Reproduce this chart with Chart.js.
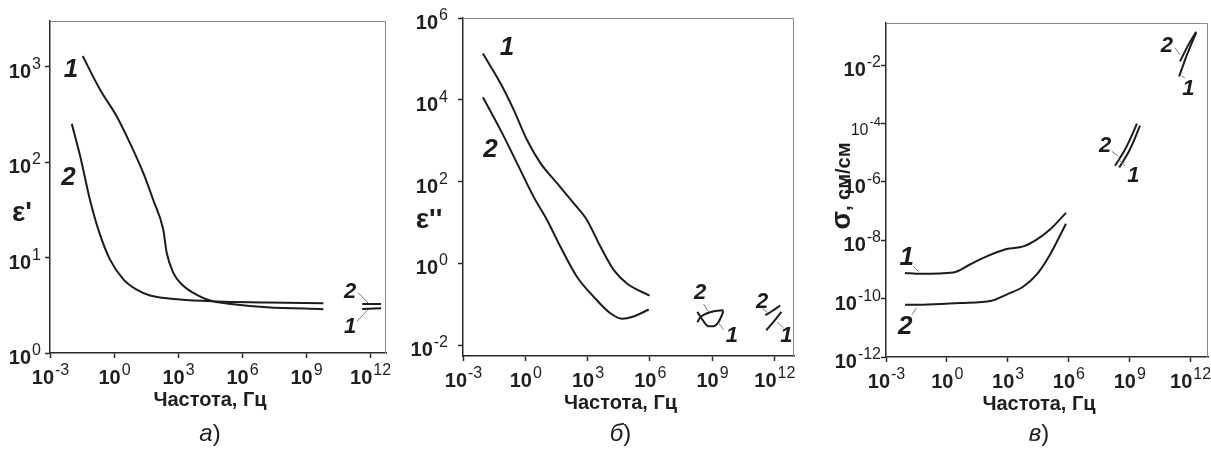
<!DOCTYPE html>
<html>
<head>
<meta charset="utf-8">
<script src="https://cdn.jsdelivr.net/npm/chart.js@4.4.1/dist/chart.umd.min.js"></script>
<style>
  body { margin: 0; background: #fff; }
  #wrap { position: relative; width: 1211px; height: 450px; overflow: hidden; }
  .panel { position: absolute; top: 0; height: 450px; }
</style>
</head>
<body>
<div id="wrap">
  <div class="panel" style="left:0;width:400px"><canvas id="chartA"></canvas></div>
  <div class="panel" style="left:400px;width:410px"><canvas id="chartB"></canvas></div>
  <div class="panel" style="left:810px;width:401px"><canvas id="chartC"></canvas></div>
</div>
<script>
// shared frequency axis
const X_TICKS = [1e-3, 1e0, 1e3, 1e6, 1e9, 1e12];
const X_EXPS = ["-3", "0", "3", "6", "9", "12"];

// а) eps'
const freqA1 = [0.034, 0.22, 1.33, 5.6, 24, 69, 204, 295, 603, 1480, 7500, 45700, 3.9e5, 1.45e7, 6.5e9];
const epsA1 = [1290, 575, 302, 158, 76, 40, 19.5, 11.2, 6.9, 5.25, 4.07, 3.47, 3.24, 3.02, 2.88];
const freqA2 = [0.0105, 0.026, 0.075, 0.186, 0.65, 2.75, 11.5, 49, 1230, 64500, 1.45e7, 6.5e9];
const epsA2 = [251, 115, 40, 19.5, 9.5, 5.9, 4.6, 4.0, 3.63, 3.47, 3.39, 3.31];
const freqAThz = [4.3e11, 3.3e12];
const epsA1Thz = [2.89, 2.95];
const epsA2Thz = [3.26, 3.26];
const yTicksA = [1, 10, 100, 1000];
const yExpsA = ["0", "1", "2", "3"];

// б) eps''
const freqB = [0.0091, 0.063, 0.275, 1.2, 5.4, 34, 214, 930, 4170, 18200, 79400, 977000];
const epsB1 = [135000, 25700, 5750, 1050, 282, 91, 29.5, 11.5, 2.57, 0.69, 0.32, 0.162];
const freqB2 = [0.0091, 0.063, 0.40, 2.5, 11.2, 49, 309, 2000, 12600, 45700, 166000, 891000];
const epsB2 = [11500, 1860, 282, 42.7, 11.5, 2.57, 0.47, 0.151, 0.060, 0.044, 0.050, 0.074];
const freqB1Ghz = [1.95e8, 3.8e8, 6.6e8, 1.15e9, 2.0e9, 2.8e9, 3.55e9];
const epsB1Ghz = [0.065, 0.039, 0.029, 0.029, 0.036, 0.050, 0.068];
const freqB2Ghz = [1.95e8, 2.75e8, 5.9e8, 1.45e9, 3.55e9];
const epsB2Ghz = [0.036, 0.048, 0.060, 0.068, 0.071];
const freqB1Thz = [4.1e11, 1.0e12, 2.2e12];
const epsB1Thz = [0.023, 0.039, 0.065];
const freqB2Thz = [3.7e11, 7.9e11, 1.95e12];
const epsB2Thz = [0.054, 0.068, 0.093];
const yTicksB = [1e-2, 1, 1e2, 1e4, 1e6];
const yExpsB = ["-2", "0", "2", "4", "6"];

// в) sigma
const freqC = [0.0087, 0.048, 2.1, 13.8, 93, 890, 6000, 26900, 123000, 759000];
const sigC1 = [7.6e-10, 7.1e-10, 7.9e-10, 1.48e-9, 2.8e-9, 5.0e-9, 6.2e-9, 1.05e-8, 2.34e-8, 8.7e-8];
const freqC2 = [0.0087, 0.069, 4.5, 162, 890, 6000, 26900, 123000, 759000];
const sigC2 = [6.2e-11, 6.2e-11, 7.1e-11, 8.5e-11, 1.38e-10, 2.6e-10, 6.6e-10, 3.2e-9, 3.7e-8];
const freqC1Ghz = [3.2e8, 1.0e9, 1.9e9, 3.4e9];
const sigC1Ghz = [3.1e-6, 1.17e-5, 3.1e-5, 8.5e-5];
const freqC2Ghz = [2.0e8, 6.2e8, 1.2e9, 2.4e9];
const sigC2Ghz = [3.6e-6, 1.29e-5, 3.3e-5, 1.0e-4];
const freqC1Thz = [2.9e11, 7.1e11, 2.0e12];
const sigC1Thz = [0.0041, 0.023, 0.132];
const freqC2Thz = [3.2e11, 7.9e11, 2.0e12];
const sigC2Thz = [0.0135, 0.047, 0.141];
const yTicksC = [1e-12, 1e-10, 1e-8, 1e-6, 1e-4, 1e-2];
const yExpsC = ["-12", "-10", "-8", "-6", "-4", "-2"];

// curve numbers, anchored in data units
const notesA = [
  { t: "1", f: 0.0095, v: 935, big: true },
  { t: "2", f: 0.0074, v: 68.6, big: true },
  { t: "2", f: 1.15e11, v: 4.4 },
  { t: "1", f: 1.15e11, v: 1.88 }
];
const leadersA = [[2.8e11, 4.28, 8.3e11, 3.31], [2.4e11, 2.13, 7.6e11, 2.82]];

const notesB = [
  { t: "1", f: 0.13, v: 185000, big: true },
  { t: "2", f: 0.021, v: 600, big: true },
  { t: "2", f: 2.7e8, v: 0.19 },
  { t: "1", f: 9.1e9, v: 0.017 },
  { t: "2", f: 2.6e11, v: 0.115 },
  { t: "1", f: 3.8e12, v: 0.017 }
];
const leadersB = [
  [3.9e8, 0.10, 6.8e8, 0.065], [2.1e9, 0.034, 3.6e9, 0.024],
  [1.35e12, 0.037, 2.8e12, 0.026], [2.7e11, 0.078, 4.7e11, 0.062]
];

const notesC = [
  { t: "1", f: 0.0105, v: 2.5e-9, big: true },
  { t: "2", f: 0.0089, v: 1.1e-11, big: true },
  { t: "2", f: 6.5e7, v: 1.66e-5 },
  { t: "1", f: 1.6e9, v: 1.55e-6 },
  { t: "2", f: 7.1e10, v: 0.045 },
  { t: "1", f: 8.3e11, v: 0.0015 }
];
const leadersC = [
  [0.022, 1.29e-9, 0.039, 8.7e-10], [0.019, 2.8e-11, 0.032, 4.8e-11],
  [1.38e8, 1.12e-5, 2.9e8, 7.6e-6], [2.9e8, 5.9e-6, 6.2e8, 3.5e-6],
  [1.8e11, 0.040, 3.2e11, 0.023], [3.9e11, 0.0042, 5.6e11, 0.0037]
];

const FONT = "'Liberation Sans', Arial, sans-serif";
const INK = "#1c1c1c";

function pts(xs, ys) {
  return xs.map((x, i) => ({ x: x, y: ys[i] }));
}

function curve(xs, ys) {
  return {
    data: pts(xs, ys),
    borderColor: INK,
    borderWidth: 2,
    pointRadius: 0,
    fill: false,
    cubicInterpolationMode: "monotone"
  };
}

function drawPow(ctx, exp, x, y, align, big, small) {
  ctx.font = big;
  const w1 = ctx.measureText("10").width;
  ctx.font = small;
  const w2 = ctx.measureText(exp).width;
  const start = align === "center" ? x - (w1 + w2) / 2 : x - w1 - w2 - 1;
  ctx.textAlign = "left";
  ctx.textBaseline = "alphabetic";
  ctx.font = big;
  ctx.fillText("10", start, y);
  ctx.font = small;
  ctx.fillText(exp, start + w1 + 1, y - 9);
}

const decorCfg = {};

const decorPlugin = {
  id: "decor",
  afterDraw(chart) {
    const o = decorCfg[chart.canvas.id];
    if (!o) return;
    const ctx = chart.ctx;
    const a = chart.chartArea;
    const sx = chart.scales.x;
    const sy = chart.scales.y;
    ctx.save();

    // light frame on top and right
    ctx.strokeStyle = "#8a8a8a";
    ctx.lineWidth = 1;
    ctx.beginPath();
    ctx.moveTo(a.left, a.top + 0.5);
    ctx.lineTo(a.right - 0.5, a.top + 0.5);
    ctx.lineTo(a.right - 0.5, a.bottom);
    ctx.stroke();

    ctx.fillStyle = "#1e1e1e";
    const big = "bold 20px " + FONT;
    const small = "16px " + FONT;
    X_TICKS.forEach((v, i) => {
      drawPow(ctx, X_EXPS[i], sx.getPixelForValue(v), a.bottom + 31, "center", big, small);
    });
    o.yTicks.forEach((v, i) => {
      const reduced = o.reduced && o.reduced.includes(o.yExps[i]);
      drawPow(ctx, o.yExps[i], a.left - o.yGap, sy.getPixelForValue(v) + 11, "right",
        reduced ? "16px " + FONT : big, reduced ? "13px " + FONT : small);
    });

    // axis title and caption
    const cx = (a.left + a.right) / 2 - 8;
    ctx.textAlign = "center";
    ctx.textBaseline = "alphabetic";
    ctx.font = "bold 20px " + FONT;
    ctx.fillText("Частота, Гц", cx, a.bottom + 53);

    ctx.font = "italic 24px " + FONT;
    const wl = ctx.measureText(o.caption).width;
    ctx.font = "24px " + FONT;
    const wp = ctx.measureText(")").width;
    ctx.textAlign = "left";
    ctx.font = "italic 24px " + FONT;
    ctx.fillText(o.caption, cx - (wl + wp) / 2, 441);
    ctx.font = "24px " + FONT;
    ctx.fillText(")", cx - (wl + wp) / 2 + wl, 441);

    // leader lines
    ctx.strokeStyle = "#7a7a7a";
    ctx.lineWidth = 1;
    o.leaders.forEach(l => {
      ctx.beginPath();
      ctx.moveTo(sx.getPixelForValue(l[0]), sy.getPixelForValue(l[1]));
      ctx.lineTo(sx.getPixelForValue(l[2]), sy.getPixelForValue(l[3]));
      ctx.stroke();
    });

    // curve numbers
    ctx.fillStyle = INK;
    ctx.textAlign = "center";
    ctx.textBaseline = "middle";
    o.notes.forEach(n => {
      ctx.font = "italic bold " + (n.big ? 26 : 22) + "px " + FONT;
      ctx.fillText(n.t, sx.getPixelForValue(n.f), sy.getPixelForValue(n.v));
    });

    // y title
    ctx.fillStyle = "#1e1e1e";
    if (o.yTitle === "sigma") {
      ctx.translate(o.yTitleX, o.yTitleY);
      ctx.rotate(-Math.PI / 2);
      ctx.textBaseline = "alphabetic";
      ctx.textAlign = "left";
      ctx.font = "bold 27px " + FONT;
      const ws = ctx.measureText("σ").width;
      ctx.font = "bold 20px " + FONT;
      const wr = ctx.measureText(", см/см").width;
      const s0 = -(ws + wr) / 2;
      ctx.font = "bold 27px " + FONT;
      ctx.fillText("σ", s0, 0);
      ctx.font = "bold 20px " + FONT;
      ctx.fillText(", см/см", s0 + ws, 0);
    } else {
      ctx.textAlign = "center";
      ctx.textBaseline = "middle";
      ctx.font = "bold 28px " + FONT;
      ctx.fillText(o.yTitle, o.yTitleX, o.yTitleY);
    }
    ctx.restore();
  }
};

function makeChart(id, W, box, xMax, yMin, yMax, datasets, extra) {
  decorCfg[id] = extra;
  return new Chart(document.getElementById(id), {
    type: "line",
    data: { datasets: datasets },
    plugins: [decorPlugin],
    options: {
      animation: false,
      responsive: true,
      maintainAspectRatio: false,
      events: [],
      layout: { padding: { left: 0, top: box.top, right: W - box.right, bottom: 0 } },
      plugins: { legend: { display: false }, tooltip: { enabled: false } },
      scales: {
        x: {
          type: "logarithmic",
          bounds: "data",
          min: 1e-3,
          max: xMax,
          afterBuildTicks: s => { s.ticks = X_TICKS.map(v => ({ value: v })); },
          afterFit: s => { s.height = 450 - box.bottom; },
          ticks: { callback: () => "", autoSkip: false },
          grid: { drawOnChartArea: false, drawTicks: true, tickLength: 5, tickColor: "#2a2a2a", tickWidth: 1.5 },
          border: { display: true, color: "#2a2a2a", width: 1.5 }
        },
        y: {
          type: "logarithmic",
          bounds: "data",
          min: yMin,
          max: yMax,
          afterBuildTicks: s => { s.ticks = extra.yTicks.map(v => ({ value: v })); },
          afterFit: s => { s.width = box.left; },
          ticks: { callback: () => "", autoSkip: false },
          grid: { drawOnChartArea: false, drawTicks: true, tickLength: 5, tickColor: "#2a2a2a", tickWidth: 1.5 },
          border: { display: true, color: "#2a2a2a", width: 1.5 }
        }
      }
    }
  });
}

makeChart("chartA", 400, { left: 50, top: 21, right: 386, bottom: 353 }, 5.6e12, 1, 3000, [
  curve(freqA1, epsA1),
  curve(freqA2, epsA2),
  curve(freqAThz, epsA1Thz),
  curve(freqAThz, epsA2Thz)
], {
  yTicks: yTicksA, yExps: yExpsA, yGap: 9, caption: "а",
  notes: notesA, leaders: leadersA, yTitle: "ε'", yTitleX: 22, yTitleY: 213
});

makeChart("chartB", 410, { left: 63, top: 18, right: 394, bottom: 356 }, 8.9e12, 5.4e-3, 1e6, [
  curve(freqB, epsB1),
  curve(freqB2, epsB2),
  curve(freqB1Ghz, epsB1Ghz),
  curve(freqB2Ghz, epsB2Ghz),
  curve(freqB1Thz, epsB1Thz),
  curve(freqB2Thz, epsB2Thz)
], {
  yTicks: yTicksB, yExps: yExpsB, yGap: 15, caption: "б",
  notes: notesB, leaders: leadersB, yTitle: "ε''", yTitleX: 29, yTitleY: 220
});

makeChart("chartC", 401, { left: 76, top: 23, right: 398, bottom: 357 }, 7.7e12, 1e-12, 0.28, [
  curve(freqC, sigC1),
  curve(freqC2, sigC2),
  curve(freqC1Ghz, sigC1Ghz),
  curve(freqC2Ghz, sigC2Ghz),
  curve(freqC1Thz, sigC1Thz),
  curve(freqC2Thz, sigC2Thz)
], {
  yTicks: yTicksC, yExps: yExpsC, yGap: 5, caption: "в", reduced: ["-4"],
  notes: notesC, leaders: leadersC, yTitle: "sigma", yTitleX: 40, yTitleY: 186
});
</script>
</body>
</html>
